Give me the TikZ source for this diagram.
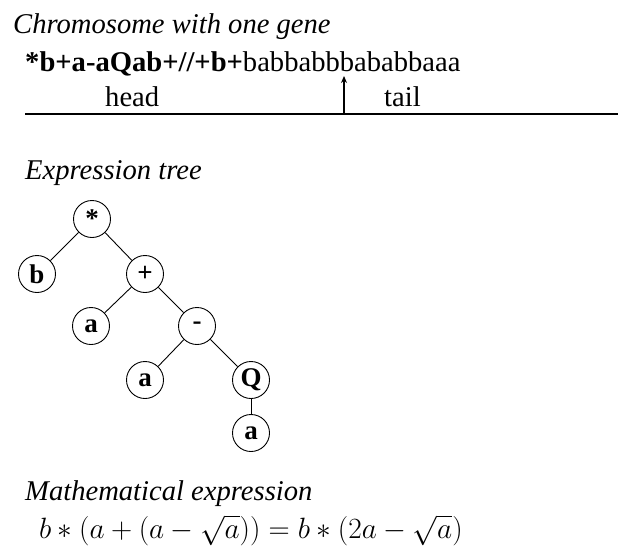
\documentclass[tikz,border=0pt]{standalone}
\usepackage{fontspec}
\setmainfont{Liberation Serif}
\usetikzlibrary{arrows.meta}
\tikzset{
  txt/.style={anchor=base west, inner sep=0pt, font=\fontsize{28.6}{32}\selectfont},
  ttl/.style={txt, font=\fontsize{28.6}{32}\selectfont\itshape},
  tn/.style={circle, draw, line width=0.9pt, minimum size=37pt, inner sep=0pt, font=\fontsize{27}{30}\selectfont\bfseries},
  edge/.style={line width=0.9pt}
}
\begin{document}
\begin{tikzpicture}[x=1pt,y=-1pt]
\useasboundingbox (0,0) rectangle (618,546);
\node[ttl] (t1) at (13,33) {Chromosome with one gene};
\node[txt] (chrom) at (25,71) {\textbf{*b+a-aQab+//+b+}babbabbbababbaaa};
\node[txt] (head) at (105,106) {head};
\node[txt] (tail) at (384,106) {tail};
\coordinate (l1) at (25,114);
\coordinate (l2) at (618,114);
\draw[line width=2pt] (l1) -- (l2);
\coordinate (ab) at (344,114);
\coordinate (at) at (344,76);
\draw[line width=1.3pt,-{Stealth[length=7pt,width=6pt]}] (ab) -- (at);

\node[ttl] (t2) at (25,179) {Expression tree};
\node[tn] (n1) at (92,219) {*};
\node[tn] (n2) at (37,274) {b};
\node[tn] (n3) at (145,274) {+};
\node[tn] (n4) at (91,326) {a};
\node[tn] (n5) at (197,326) {-};
\node[tn] (n6) at (145,380) {a};
\node[tn] (n7) at (251,380) {Q};
\node[tn] (n8) at (251,433) {a};
\draw[edge] (n1) -- (n2);
\draw[edge] (n1) -- (n3);
\draw[edge] (n3) -- (n4);
\draw[edge] (n3) -- (n5);
\draw[edge] (n5) -- (n6);
\draw[edge] (n5) -- (n7);
\draw[edge] (n7) -- (n8);

\node[ttl] (t3) at (25,500) {Mathematical expression};
\node[txt, font=\fontsize{24.88}{28}\selectfont] (expr) at (39,538) {\scalebox{1.18}{$b*(a+(a-\sqrt{a}))=b*(2a-\sqrt{a})$}};
\end{tikzpicture}
\end{document}
